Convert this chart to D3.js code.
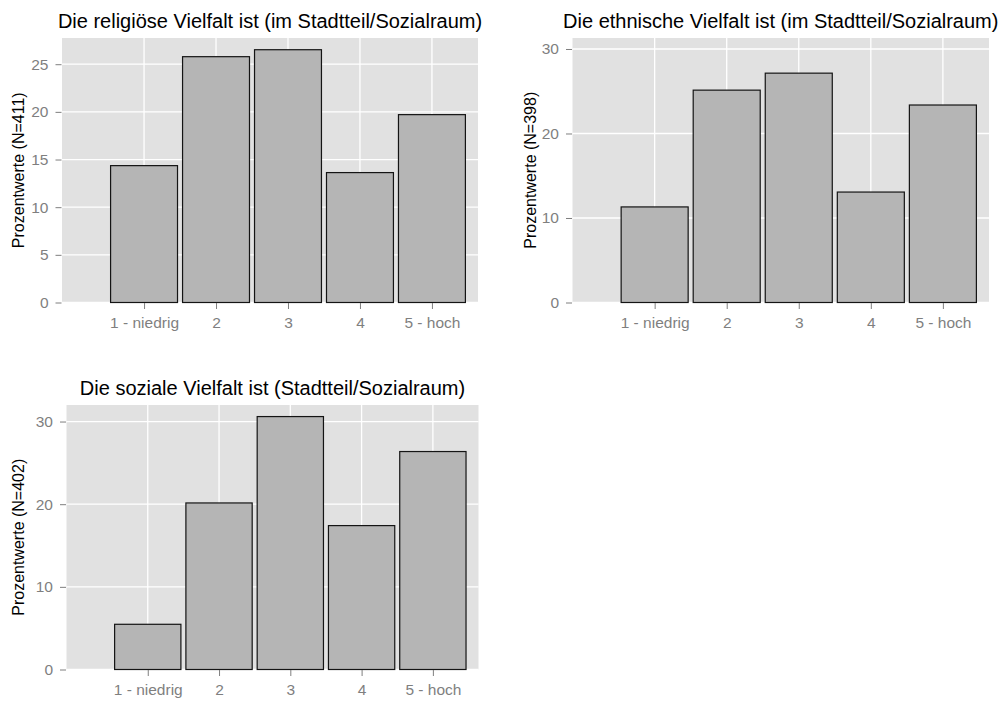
<!DOCTYPE html>
<html><head><meta charset="utf-8">
<script src="https://cdn.jsdelivr.net/npm/d3@7"></script>
<style>
html,body{margin:0;padding:0;background:#fff;}
svg{display:block;font-family:"Liberation Sans",Arial,Helvetica,sans-serif;}
</style></head>
<body><svg id="chart" width="1003" height="702"></svg>
<script>
// ---- data ----
const categories = ["1 - niedrig", "2", "3", "4", "5 - hoch"];
const titles = [
  "Die religiöse Vielfalt ist (im Stadtteil/Sozialraum)",
  "Die ethnische Vielfalt ist (im Stadtteil/Sozialraum)",
  "Die soziale Vielfalt ist (Stadtteil/Sozialraum)"
];
const yTitles = ["Prozentwerte (N=411)", "Prozentwerte (N=398)", "Prozentwerte (N=402)"];
const religioes = [14.36, 25.79, 26.52, 13.63, 19.71];
const ethnisch  = [11.31, 25.13, 27.14, 13.07, 23.37];
const sozial    = [5.47, 20.15, 30.60, 17.41, 26.37];
const yTicks1 = [0, 5, 10, 15, 20, 25];
const yTicks2 = [0, 10, 20, 30];
const yTicks3 = [0, 10, 20, 30];

// ---- layout ----
const panels = [
  {values: religioes, ticks: yTicks1, title: titles[0], ytitle: yTitles[0], x0: 62, x1: 478, y0: 38, y1: 302.5, ymax: 27.75, ytx: 19},
  {values: ethnisch,  ticks: yTicks2, title: titles[1], ytitle: yTitles[1], x0: 572.5, x1: 989, y0: 38, y1: 302.5, ymax: 31.3, ytx: 531},
  {values: sozial,    ticks: yTicks3, title: titles[2], ytitle: yTitles[2], x0: 66.5, x1: 478.5, y0: 405, y1: 669.5, ymax: 32.0, ytx: 19}
];
const xDomain = [-0.14, 5.64];
const barWidth = 0.93;

const svg = d3.select("#chart");

panels.forEach(p => {
  const g = svg.append("g");
  const x = d3.scaleLinear().domain(xDomain).range([p.x0, p.x1]);
  const y = d3.scaleLinear().domain([0, p.ymax]).range([p.y1, p.y0]);
  const pos = d => categories.indexOf(d) + 1;

  g.append("rect").attr("x", p.x0).attr("y", p.y0)
    .attr("width", p.x1 - p.x0).attr("height", p.y1 - p.y0).attr("fill", "#e1e1e1");

  // grid
  g.selectAll(".hg").data(p.ticks).join("line")
    .attr("x1", p.x0).attr("x2", p.x1)
    .attr("y1", d => y(d)).attr("y2", d => y(d))
    .attr("stroke", "#fff").attr("stroke-width", 1.3);
  g.selectAll(".vg").data(categories).join("line")
    .attr("x1", d => x(pos(d))).attr("x2", d => x(pos(d)))
    .attr("y1", p.y0).attr("y2", p.y1)
    .attr("stroke", "#fff").attr("stroke-width", 1.3);

  // bars
  g.selectAll(".bar").data(p.values).join("rect")
    .attr("x", (d, i) => x(i + 1 - barWidth / 2))
    .attr("width", x(barWidth) - x(0))
    .attr("y", d => y(d))
    .attr("height", d => y(0) - y(d))
    .attr("fill", "#b5b5b5").attr("stroke", "#141414").attr("stroke-width", 1.2);

  // axes
  const yAxis = d3.axisLeft(y).tickValues(p.ticks).tickSize(6).tickPadding(7).tickFormat(d3.format("d"));
  const ya = g.append("g").attr("transform", `translate(${p.x0 - 0.5},0)`).call(yAxis);
  const xAxis = d3.axisBottom(x).tickValues([1, 2, 3, 4, 5]).tickSize(6).tickPadding(8)
    .tickFormat(d => categories[d - 1]);
  const xa = g.append("g").attr("transform", `translate(0,${p.y1 + 0.5})`).call(xAxis);
  [ya, xa].forEach(a => {
    a.select(".domain").remove();
    a.selectAll(".tick line").attr("stroke", "#7f7f7f").attr("stroke-width", 1);
    a.selectAll(".tick text").attr("fill", "#7f7f7f").attr("font-size", "15.5px")
      .attr("font-family", "Liberation Sans, Arial, sans-serif");
  });

  // title
  g.append("text").attr("x", (p.x0 + p.x1) / 2).attr("y", p.y0 - 10)
    .attr("text-anchor", "middle").attr("font-size", "20px").attr("fill", "#000")
    .text(p.title);

  // y-axis title
  g.append("text")
    .attr("transform", `translate(${p.ytx + 5},${(p.y0 + p.y1) / 2}) rotate(-90)`)
    .attr("text-anchor", "middle").attr("font-size", "16px").attr("fill", "#000")
    .text(p.ytitle);
});
</script></body></html>
